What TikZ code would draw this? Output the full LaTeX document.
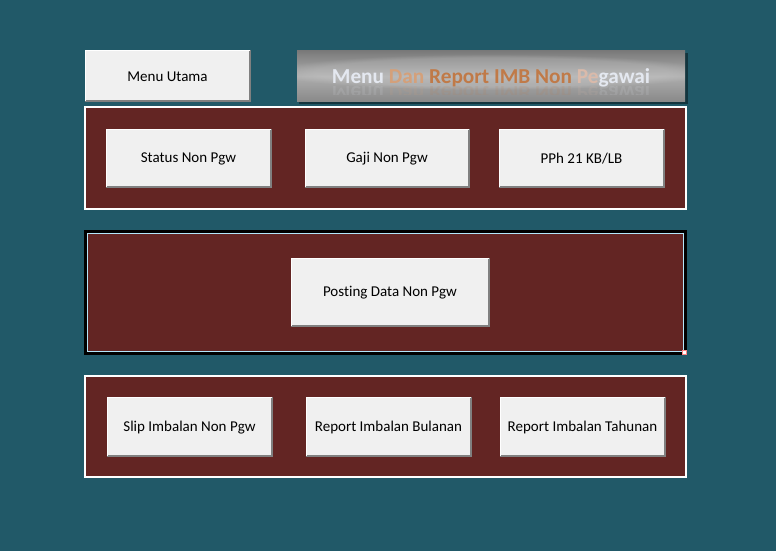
\documentclass[tikz,border=0pt]{standalone}
\usepackage{fontspec}
\setmainfont{Carlito}[Ligatures={NoCommon,NoRare,NoDiscretionary}]
\usetikzlibrary{calc,fadings}
\definecolor{bgteal}{RGB}{33,89,104}
\definecolor{maroon}{RGB}{99,37,35}
\definecolor{btn}{RGB}{240,240,240}
\definecolor{btnedge}{RGB}{128,128,128}
\definecolor{tOrange}{RGB}{192,122,72}
\definecolor{tLight}{RGB}{212,160,122}
\definecolor{tPink}{RGB}{218,186,170}
\definecolor{tWhite}{RGB}{228,232,240}
\tikzset{
  panelw/.style={draw=white, line width=2.5pt, fill=maroon},
  panelk/.style={draw=black, line width=3pt, fill=maroon},
  btntext/.style={font=\fontsize{15}{17}\selectfont, text=black, inner sep=0pt, yshift=-1pt},
  titletext/.style={font=\fontsize{21.3}{25}\bfseries\selectfont, anchor=base, inner sep=0pt},
}
\newcommand{\mybtn}[5]{% name, x1, y1, x2, y2
  \fill[btn] (#2,#3) rectangle (#4,#5);
  \draw[btnedge, line width=1.6pt] (#2,#5) -- (#4,#5) -- (#4,#3);
  \draw[white, line width=0.8pt] (#2,#5) -- (#2,#3) -- (#4,#3);
  \coordinate (#1) at ($(#2,#3)!0.5!(#4,#5)$);
}
\newcommand{\titlestr}{\textcolor{tWhite}{Menu} \textcolor{tLight}{Dan} \textcolor{tOrange}{Report IMB Non} \textcolor{tPink}{Pe}\textcolor{tWhite}{gawai}}
\begin{document}
\begin{tikzpicture}[x=1pt,y=-1pt]
\fill[bgteal] (0,0) rectangle (776,551);
\useasboundingbox (0,0) rectangle (776,551);

% Menu Utama
\mybtn{mu}{85}{50}{250}{101}
\node[btntext] (mut) at (mu) {Menu Utama};

% Title bar
\fill[black, opacity=0.4] (299,53) rectangle (688,104);
\begin{scope}
\clip (297,51) rectangle (685,101);
\shade[top color=black!52, bottom color=black!46, middle color=black!32] (297,51) rectangle (685,101);
\fill[white, opacity=0.15, path fading=circle with fuzzy edge 20 percent] (491,72) ellipse (220 and 18);
\node[titletext] (title) at (491,84) {\titlestr};
\end{scope}
\begin{scope}
\clip (297,85.5) rectangle (685,94);
\node[titletext, yscale=-1, opacity=0.13] (titler) at (491,86) {\titlestr};
\end{scope}

% Panel 1
\draw[panelw] (85,107) rectangle (686,209);
\mybtn{b1}{106}{129}{271}{187}
\mybtn{b2}{305}{129}{469}{187}
\mybtn{b3}{499}{129}{664}{187}
\node[btntext] (t1) at (b1) {Status Non Pgw};
\node[btntext] (t2) at (b2) {Gaji Non Pgw};
\node[btntext] (t3) at (b3) {PPh 21 KB/LB};

% Panel 2
\draw[panelk] (85.5,231.5) rectangle (685.5,353.5);
\draw[white!70!cyan, line width=0.6pt] (87.5,233.5) rectangle (683.5,351.5);
\draw[fill=white, draw=pink!70!red, line width=0.5pt] (682.5,350.5) rectangle (686.5,354.5);
\mybtn{b4}{291}{258}{489}{326}
\node[btntext] (t4) at (b4) {Posting Data Non Pgw};

% Panel 3
\draw[panelw] (85,376) rectangle (686,477);
\mybtn{b5}{107}{397}{272}{456}
\mybtn{b6}{306}{397}{471}{456}
\mybtn{b7}{500}{397}{665}{456}
\node[btntext] (t5) at (b5) {Slip Imbalan Non Pgw};
\node[btntext] (t6) at (b6) {Report Imbalan Bulanan};
\node[btntext] (t7) at (b7) {Report Imbalan Tahunan};
\end{tikzpicture}
\end{document}
